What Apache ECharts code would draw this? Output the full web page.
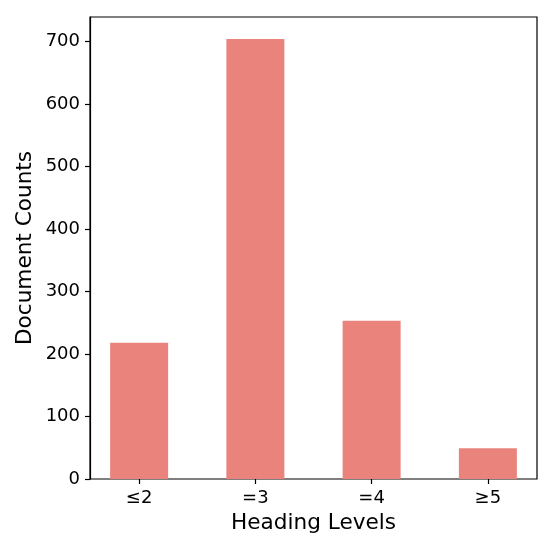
<!DOCTYPE html>
<html>
<head>
<meta charset="utf-8">
<script src="https://cdn.jsdelivr.net/npm/echarts@6/dist/echarts.min.js"></script>
<style>
  html, body { margin: 0; padding: 0; background: #fff; }
  #chart { width: 554px; height: 554px; }
</style>
</head>
<body>
<div id="chart"></div>
<script>
const categories = ["≤2", "=3", "=4", "≥5"];
const counts = [218, 704, 253, 49];
const yMax = 739;

const chart = echarts.init(document.getElementById("chart"));

const tickStyle = { color: "#000", width: 1.2 };

const option = {
  animation: false,
  textStyle: { fontFamily: "DejaVu Sans" },
  grid: [
    // frame + y axis
    { left: 90, top: 17, right: 17, bottom: 75, show: true, borderColor: "#000", borderWidth: 1.2 },
    // bars + category axis (wider so band centers match matplotlib margins)
    { left: 81, top: 17, right: 8, bottom: 75 }
  ],
  xAxis: [
    { gridIndex: 0, type: "value", show: false, min: 0, max: 1 },
    {
      gridIndex: 1,
      type: "category",
      data: categories,
      name: "Heading Levels",
      nameLocation: "middle",
      nameGap: 33,
      nameTextStyle: { fontSize: 21.6, color: "#000" },
      axisLine: { show: true, lineStyle: { color: "rgba(0,0,0,0)" } },
      axisTick: { show: true, alignWithLabel: true, length: 5, lineStyle: tickStyle },
      axisLabel: { margin: 10, fontSize: 18, color: "#000" }
    }
  ],
  yAxis: [
    {
      gridIndex: 0,
      type: "value",
      min: 0,
      max: yMax,
      interval: 100,
      name: "Document Counts",
      nameLocation: "middle",
      nameGap: 54,
      nameMoveOverlap: false,
      nameTextStyle: { fontSize: 21.6, color: "#000" },
      splitLine: { show: false },
      axisLine: { show: true, lineStyle: tickStyle },
      axisTick: { show: true, length: 5, lineStyle: tickStyle },
      axisLabel: { margin: 10, fontSize: 18, color: "#000", showMaxLabel: false }
    },
    { gridIndex: 1, type: "value", show: false, min: 0, max: yMax }
  ],
  series: [
    {
      type: "bar",
      xAxisIndex: 1,
      yAxisIndex: 1,
      barWidth: 58,
      itemStyle: { color: "#e9837b" },
      data: counts
    }
  ]
};

chart.setOption(option);
</script>
</body>
</html>
